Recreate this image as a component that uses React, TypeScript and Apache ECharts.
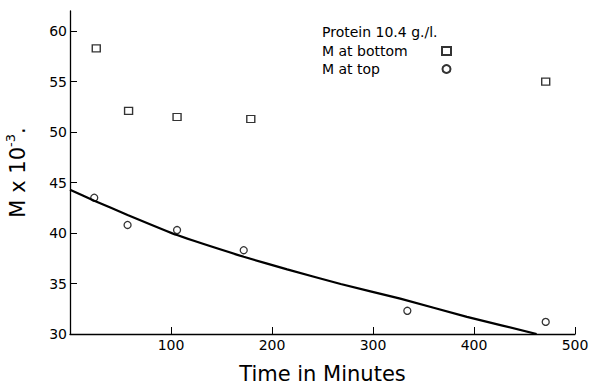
import React, { useEffect, useRef } from "react";
import * as echarts from "echarts";

const bottomTime = [26, 58, 106, 179, 471];
const bottomM = [58.3, 52.1, 51.5, 51.3, 55.0];
const topTime = [24, 57, 106, 172, 334, 471];
const topM = [43.5, 40.8, 40.3, 38.3, 32.3, 31.2];
const fitTime = [0, 24, 57, 106, 172, 215, 268, 327, 393, 462];
const fitM = [44.3, 43.2, 41.8, 39.8, 37.65, 36.4, 34.95, 33.5, 31.7, 30.0];
const yTicks = [30, 35, 40, 45, 50, 55, 60];
const xTicks = [100, 200, 300, 400, 500];
const legendTitle = "Protein 10.4 g./l.";
const seriesNames = ["M at bottom", "M at top"];

const FONT = "DejaVu Sans";

export default function App() {
  const ref = useRef<HTMLDivElement>(null);
  useEffect(() => {
    document.body.style.margin = "0";
    const chart = echarts.init(ref.current!, null, { renderer: "svg" });
    const zip = (a: number[], b: number[]) => a.map((v, i) => [v, b[i]]);
    chart.setOption({
      animation: false,
      backgroundColor: "#fff",
      textStyle: { fontFamily: FONT, color: "#000" },
      title: {
        text: legendTitle,
        left: 322,
        top: 25,
        padding: 0,
        textStyle: { fontFamily: FONT, fontSize: 14, fontWeight: "normal", color: "#000" },
      },
      legend: {
        data: seriesNames,
        orient: "vertical",
        left: 322,
        top: 44,
        padding: 0,
        align: "right",
        itemWidth: 9,
        itemHeight: 8,
        itemGap: 4,
        formatter: "{t|{name}}",
        textStyle: {
          fontFamily: FONT,
          fontSize: 14,
          color: "#000",
          rich: { t: { width: 115, align: "left", fontFamily: FONT, fontSize: 14, color: "#000" } },
        },
      },
      grid: { left: 70, right: 22, top: 11, bottom: 51, outerBoundsMode: "none", containLabel: false },
      xAxis: {
        type: "value",
        min: 0,
        max: 500,
        interval: 100,
        name: "Time in Minutes",
        nameLocation: "middle",
        nameGap: 29,
        nameTextStyle: { fontFamily: FONT, fontSize: 21, color: "#000" },
        splitLine: { show: false },
        axisLine: { lineStyle: { color: "#000", width: 1.3 } },
        axisTick: { inside: true, length: 7, lineStyle: { color: "#000" }, customValues: xTicks },
        axisLabel: { customValues: xTicks, fontFamily: FONT, fontSize: 14, color: "#000", margin: 4 },
      },
      yAxis: {
        type: "value",
        min: 30,
        max: 62,
        name: "{a|M x 10}{s|-3}{a|.}",
        nameLocation: "middle",
        nameGap: 38,
        nameRotate: 90,
        nameTextStyle: {
          fontFamily: FONT,
          color: "#000",
          rich: {
            a: { fontFamily: FONT, fontSize: 21, lineHeight: 28, color: "#000" },
            s: { fontFamily: FONT, fontSize: 13, lineHeight: 14, verticalAlign: "top", color: "#000" },
          },
        },
        splitLine: { show: false },
        axisLine: { show: true, lineStyle: { color: "#000", width: 1.3 } },
        axisTick: { show: true, inside: true, length: 7, lineStyle: { color: "#000" }, customValues: yTicks },
        axisLabel: { customValues: yTicks, fontFamily: FONT, fontSize: 14, color: "#000", margin: 3 },
      },
      series: [
        {
          name: seriesNames[0],
          type: "scatter",
          symbol: "rect",
          symbolSize: [8, 7],
          itemStyle: { color: "#fff", borderColor: "#000", borderWidth: 1.3 },
          data: zip(bottomTime, bottomM),
        },
        {
          name: seriesNames[1],
          type: "scatter",
          symbol: "circle",
          symbolSize: 7,
          itemStyle: { color: "#fff", borderColor: "#000", borderWidth: 1.3 },
          data: zip(topTime, topM),
        },
        {
          name: "fit",
          type: "line",
          smooth: 0.1,
          showSymbol: false,
          symbol: "none",
          lineStyle: { color: "#000", width: 2.2 },
          data: zip(fitTime, fitM),
        },
      ],
    });
    return () => chart.dispose();
  }, []);
  return <div ref={ref} style={{ width: 597, height: 385 }} />;
}
